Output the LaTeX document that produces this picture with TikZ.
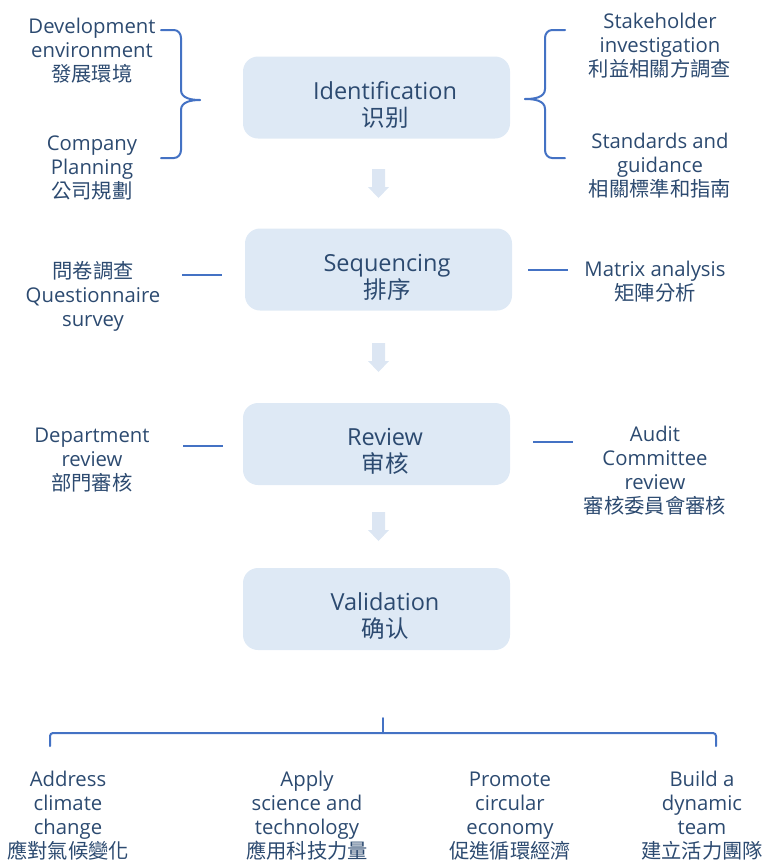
\documentclass[tikz,border=0pt]{standalone}
\usepackage{fontspec}
\setmainfont{Open Sans}
\newfontfamily\cjk{Noto Sans CJK TC}
\definecolor{txt}{RGB}{44,74,112}
\definecolor{boxfill}{RGB}{222,233,245}
\definecolor{arrowfill}{RGB}{220,230,243}
\definecolor{linec}{RGB}{68,114,196}
\tikzset{
  stage/.style={fill=boxfill, rounded corners=15pt, minimum width=267pt, minimum height=82pt, inner sep=0pt},
  stagetext/.style={text=txt, align=center, font=\fontsize{23.5}{27}\selectfont, inner sep=0pt},
  side/.style={text=txt, align=center, font=\fontsize{20.3}{24}\selectfont, inner sep=0pt},
  conn/.style={draw=linec, line width=2pt},
  brace/.style={draw=linec, line width=2pt, line join=round, line cap=round},
  downarrow/.style={fill=arrowfill, draw=none}
}
\newcommand{\downarr}[2]{% x, top y
  \fill[downarrow] (#1-6,#2) -- (#1+7,#2) -- (#1+7,#2+18) -- (#1+11,#2+18) -- (#1+0.5,#2+29) -- (#1-10,#2+18) -- (#1-6,#2+18) -- cycle;}
\begin{document}
\begin{tikzpicture}[x=1pt,y=-1pt]
\useasboundingbox (0,0) rectangle (765,863);

% stage boxes
\node[stage] (ident) at (376.5,97.5) {};
\node[stage] (seq) at (378.5,269.5) {};
\node[stage] (rev) at (376.5,444) {};
\node[stage] (val) at (376.5,609) {};
\node[stagetext] (identT) at (385,104.5) {Identification\\{\cjk 识别}};
\node[stagetext] (seqT) at (387,277) {Sequencing\\{\cjk 排序}};
\node[stagetext] (revT) at (385,451) {Review\\{\cjk 审核}};
\node[stagetext] (valT) at (385,616) {Validation\\{\cjk 确认}};

% block arrows
\downarr{378}{169}
\downarr{378}{343}
\downarr{378}{512}

% top left texts
\node[side] (dev) at (92,51) {Development\\environment\\{\cjk 發展環境}};
\node[side] (comp) at (92,168) {Company\\Planning\\{\cjk 公司規劃}};
% top right texts
\node[side] (stake) at (660,46) {Stakeholder\\investigation\\{\cjk 利益相關方調查}};
\node[side] (stand) at (660,166) {Standards and\\guidance\\{\cjk 相關標準和指南}};

% left brace
\coordinate (lb1) at (161,30);
\coordinate (lb2) at (161,158);
\coordinate (lbt) at (200,100);
\draw[brace] (lb1) -- (174,30) to[out=0,in=90] (181,38) -- (181,90) to[out=-90,in=180] (lbt);
\draw[brace] (lbt) to[out=180,in=90] (181,110) -- (181,150) to[out=-90,in=0] (174,158) -- (lb2);
% right brace
\coordinate (rb1) at (565,30);
\coordinate (rb2) at (565,158);
\coordinate (rbt) at (525,99);
\draw[brace] (rb1) -- (552,30) to[out=180,in=90] (545,38) -- (545,89) to[out=-90,in=0] (rbt);
\draw[brace] (rbt) to[out=0,in=90] (545,109) -- (545,150) to[out=-90,in=180] (552,158) -- (rb2);

% sequencing row
\node[side] (quest) at (93,296) {{\cjk 問卷調查}\\Questionnaire\\survey};
\node[side] (matrix) at (655,282) {Matrix analysis\\{\cjk 矩陣分析}};
\coordinate (q1) at (182,275);
\coordinate (q2) at (222,275);
\coordinate (m1) at (528,270);
\coordinate (m2) at (568,270);
\draw[conn] (q1) -- (q2);
\draw[conn] (m1) -- (m2);

% review row
\node[side] (dept) at (92,460) {Department\\review\\{\cjk 部門審核}};
\node[side] (audit) at (655,471) {Audit\\Committee\\review\\{\cjk 審核委員會審核}};
\coordinate (d1) at (183,446);
\coordinate (d2) at (223,446);
\coordinate (a1) at (533,442);
\coordinate (a2) at (573,442);
\draw[conn] (d1) -- (d2);
\draw[conn] (a1) -- (a2);

% bottom bracket
\coordinate (bt) at (383,718);
\coordinate (bl) at (50,746);
\coordinate (br) at (716,746);
\draw[brace, rounded corners=3pt] (bl) -- (50,733) -- (716,733) -- (br);
\draw[brace] (bt) -- (383,733);

% bottom texts
\node[side] (clim) at (68,816) {Address\\climate\\change\\{\cjk 應對氣候變化}};
\node[side] (sci) at (307,816) {Apply\\science and\\technology\\{\cjk 應用科技力量}};
\node[side] (circ) at (510,816) {Promote\\circular\\economy\\{\cjk 促進循環經濟}};
\node[side] (team) at (702,816) {Build a\\dynamic\\team\\{\cjk 建立活力團隊}};
\end{tikzpicture}
\end{document}
